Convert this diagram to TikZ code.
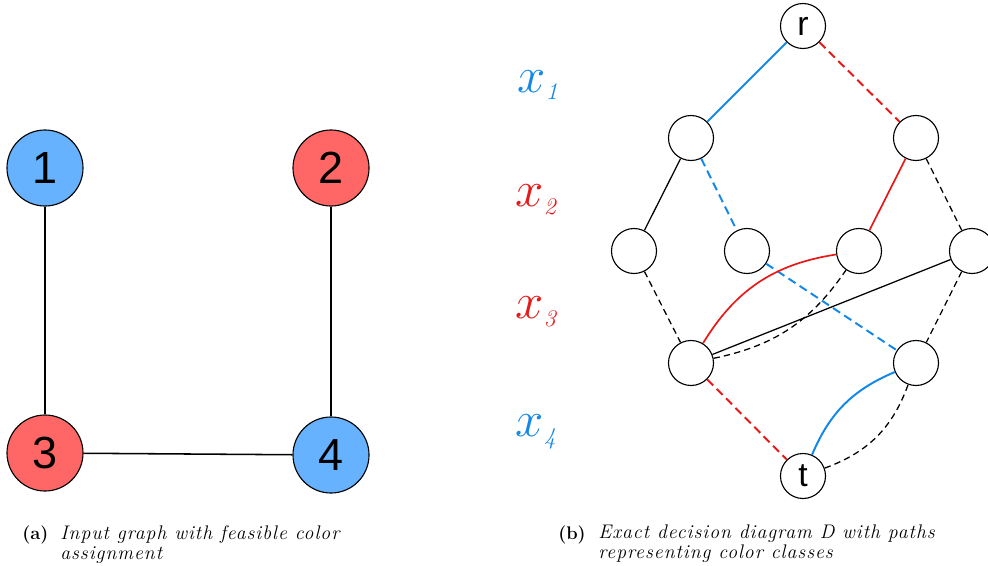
\RequirePackage{fix-cm}
\documentclass[tikz,border=0pt]{standalone}
\usepackage{fontspec}
\setsansfont{Liberation Sans}
\newfontfamily\capfont{Latin Modern Roman}[LetterSpace=5]
\usepackage{amsmath}
\usepackage{tikz}

\definecolor{fillBlue}{RGB}{102,178,255}
\definecolor{fillRed}{RGB}{255,102,102}
\definecolor{arcBlue}{RGB}{20,136,232}
\definecolor{arcRed}{RGB}{232,24,24}

\newcommand{\layervar}[1]{$x_{\text{\fontsize{17}{17}\selectfont\itshape #1}}$}

\begin{document}
\begin{tikzpicture}[x=0.025cm,y=-0.025cm]

    \tikzset{vertex/.style = {shape=circle,draw,thick,minimum size=1.9cm,inner sep=0pt,font=\sffamily\fontsize{32}{32}\selectfont}}
    \tikzset{BlueVertex/.style = {vertex,fill=fillBlue}}
    \tikzset{RedVertex/.style = {vertex,fill=fillRed}}
    \tikzset{ddNode/.style = {shape=circle,draw,thick,minimum size=1.125cm,inner sep=0pt,font=\sffamily\fontsize{24}{24}\selectfont}}
    \tikzset{edgeG/.style = {line width=1.1pt}}
    \tikzset{oneArc/.style = {line width=0.9pt}}
    \tikzset{zeroArc/.style = {line width=0.9pt,dash pattern=on 4.5pt off 3pt}}
    \tikzset{blueOne/.style = {arcBlue,line width=1.4pt}}
    \tikzset{blueZero/.style = {arcBlue,line width=1.4pt,dash pattern=on 6pt off 3.5pt}}
    \tikzset{redOne/.style = {arcRed,line width=1.2pt}}
    \tikzset{redZero/.style = {arcRed,line width=1.4pt,dash pattern=on 6pt off 3.5pt}}
    \tikzset{varLabel/.style = {inner sep=0pt,font=\fontsize{36}{40}\selectfont}}
    \tikzset{capTag/.style = {anchor=north west,inner sep=0pt,font=\fontsize{13}{14.2}\selectfont\bfseries}}
    \tikzset{capText/.style = {anchor=north west,inner sep=0pt,align=left,font=\fontsize{14}{14.2}\selectfont\capfont\itshape}}

    \useasboundingbox (0,0) rectangle (988,566);


    %input graph
    \node [BlueVertex] (v1) at (45,168) {1};
    \node [RedVertex] (v2) at (331,168) {2};
    \node [RedVertex] (v3) at (45,453) {3};
    \node [BlueVertex] (v4) at (331,455) {4};
    \draw [edgeG] (v1) -- (v3);
    \draw [edgeG] (v2) -- (v4);
    \draw [edgeG] (v3) -- (v4);


    %variable of each layer
    \node [varLabel,text=arcBlue] (lx1) at (538,85) {\layervar{1}};
    \node [varLabel,text=arcRed] (lx2) at (536,200) {\layervar{2}};
    \node [varLabel,text=arcRed] (lx3) at (536,312) {\layervar{3}};
    \node [varLabel,text=arcBlue] (lx4) at (536,432) {\layervar{4}};


    %layers 1 and 2
    \node [ddNode] (r) at (803,26) {r};
    \node [ddNode] (u1) at (691,138) {};
    \node [ddNode] (u2) at (916,138) {};
    \draw [blueOne] (r) to (u1);
    \draw [redZero] (r) to (u2);


    %layer 3
    \node [ddNode] (w1) at (634,251) {};
    \node [ddNode] (w2) at (747,251) {};
    \node [ddNode] (w3) at (859,251) {};
    \node [ddNode] (w4) at (972,251) {};
    \draw [oneArc] (u1) to (w1);
    \draw [blueZero] (u1) to (w2);
    \draw [redOne] (u2) to (w3);
    \draw [zeroArc] (u2) to (w4);


    %layer 4
    \node [ddNode] (z1) at (691,363) {};
    \node [ddNode] (z2) at (916,363) {};
    \draw [zeroArc] (w1) to (z1);
    \draw [blueZero] (w2) to (z2);
    \draw [redOne] (z1)
        to [bend left=25] (w3);
    \draw [zeroArc] (z1)
        to [bend right=22] (w3);
    \draw [oneArc] (z1) to (w4);
    \draw [zeroArc] (w4) to (z2);


    %terminal
    \node [ddNode] (t) at (803,476) {t};
    \draw [redZero] (z1) to (t);
    \draw [blueOne] (t)
        to [bend left=22] (z2);
    \draw [zeroArc] (t)
        to [bend right=25] (z2);


    %captions
    \node [capTag] (capA) at (22,526) {(a)};
    \node [capText] (txtA) at (60,525) {Input graph with feasible color\\assignment};
    \node [capTag] (capB) at (558,526) {(b)};
    \node [capText] (txtB) at (598,525) {Exact decision diagram D with paths\\representing color classes};

\end{tikzpicture}
\end{document}
